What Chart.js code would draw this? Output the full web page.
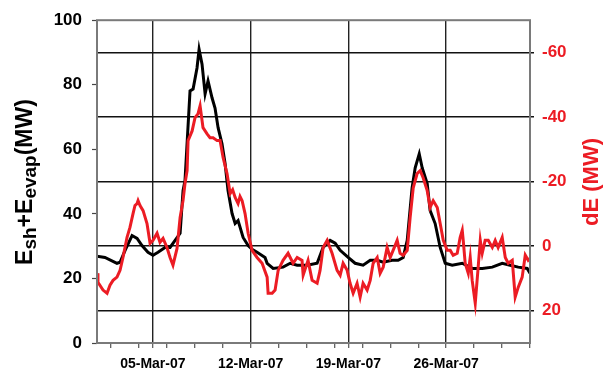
<!DOCTYPE html>
<html>
<head>
<meta charset="utf-8">
<script src="https://cdn.jsdelivr.net/npm/chart.js@4/dist/chart.umd.min.js"></script>
<style>
  html, body { margin: 0; padding: 0; background: #fff; }
  canvas { display: block; }
</style>
</head>
<body>
<canvas id="c" width="611" height="374"></canvas>
<script>
// Time in days since 01-Mar-07 00:00
const eDays = [0.00, 0.57, 1.43, 1.65, 2.01, 2.51, 2.87, 3.22, 3.65, 4.01, 4.37, 4.87, 5.23, 5.59, 5.95,
  6.16, 6.30, 6.66, 6.88, 7.16, 7.31, 7.52, 7.74, 7.95, 8.24, 8.45, 8.67, 8.95, 9.17, 9.38, 9.67, 9.89,
  10.10, 10.46, 10.82, 11.10, 11.46, 12.03, 12.18, 12.61, 13.32, 13.83, 14.33, 15.04, 15.76, 16.19, 16.69,
  17.05, 17.41, 17.98, 18.48, 19.05, 19.56, 20.06, 20.49, 21.13, 21.56, 21.92, 22.21, 22.56, 22.78,
  23.07, 23.28, 23.64, 23.85, 24.21, 24.57, 24.93, 25.43, 26.15, 26.86, 27.58, 28.30, 29.01, 29.58,
  30.16, 30.80, 31.00];
// Esh + Eevap (MW)
const eValues = [26.9, 26.5, 24.7, 25.0, 28.7, 33.3, 32.4, 30.2, 28.1, 27.2, 28.1, 29.6, 29.6, 31.8, 34.0,
  47.2, 50.3, 78.1, 78.7, 85.2, 91.0, 86.4, 77.2, 81.2, 75.9, 72.8, 66.7, 61.7, 55.6, 47.2, 40.1, 37.0,
  37.9, 32.7, 30.2, 29.0, 28.1, 26.5, 24.7, 23.1, 23.5, 24.7, 24.1, 24.1, 24.7, 29.6, 31.8,
  30.9, 28.7, 26.5, 24.7, 24.1, 25.6, 25.6, 25.0, 25.6, 25.6, 26.5, 31.8, 48.1, 54.3,
  58.6, 54.3, 49.4, 41.0, 37.0, 29.6, 24.7, 24.1, 24.7, 23.1, 23.1, 23.5, 24.7, 24.1,
  23.5, 23.1, 21.6];

const dEDays = [0.00, 0.07, 0.43, 0.72, 0.93, 1.15, 1.43, 1.65, 1.86, 2.15, 2.36, 2.58, 2.72, 2.87, 2.94,
  3.08, 3.30, 3.58, 3.80, 4.01, 4.30, 4.51, 4.73, 5.01, 5.23, 5.44, 5.73, 5.95, 6.16, 6.30, 6.45, 6.52,
  6.81, 7.02, 7.23, 7.38, 7.59, 7.88, 8.09, 8.31, 8.60, 8.81, 9.03, 9.31, 9.53, 9.71, 9.89, 10.10,
  10.24, 10.39, 10.60, 10.82, 11.10, 11.46, 11.82, 12.18, 12.25, 12.54, 12.75, 12.97, 13.32, 13.68,
  14.04, 14.33, 14.68, 14.76, 15.11, 15.40, 15.76, 15.97, 16.19, 16.48, 16.83, 17.19, 17.41, 17.62,
  17.91, 18.12, 18.34, 18.62, 18.84, 19.05, 19.34, 19.56, 19.77, 20.06, 20.27, 20.49, 20.77, 20.99,
  21.20, 21.49, 21.70, 21.92, 22.21, 22.42, 22.64, 22.92, 23.14, 23.35, 23.64, 23.85, 24.07, 24.36,
  24.57, 24.79, 25.07, 25.29, 25.50, 25.79, 26.00, 26.15, 26.22, 26.36, 26.58, 26.72, 26.86, 27.08,
  27.29, 27.44, 27.58, 27.79, 28.01, 28.30, 28.51, 28.72, 29.01, 29.23, 29.44, 29.73, 29.94, 30.16,
  30.44, 30.66, 30.87, 31.00];
// dE (MW)
const dEValues = [8.4, 11.2, 13.6, 14.6, 12.1, 10.6, 9.6, 7.5, 3.5, -2.7, -5.8, -10.1, -12.6, -13.2, -14.1,
  -12.6, -11.0, -7.0, -0.9, -1.8, -4.0, -1.2, -2.4, 0.4, 3.5, 5.9, 0.7, -8.9, -14.1, -19.4, -23.4, -32.7,
  -35.7, -39.8, -41.0, -43.5, -36.7, -34.8, -33.6, -33.6, -32.7, -32.7, -27.4, -22.5, -16.3, -17.5, -15.1, -13.2,
  -15.4, -14.1, -10.1, -4.0, 1.3, 3.5, 5.3, 9.6, 14.6, 14.6, 13.6, 7.5, 4.4, 2.2,
  5.3, 3.5, 4.4, 9.0, 4.4, 10.6, 11.5, 7.5, 0.4, -1.8, 2.2, 7.5, 9.0, 5.3,
  7.5, 11.5, 14.6, 11.5, 15.8, 11.5, 13.6, 10.6, 5.3, 3.5, 8.4, 6.5, 0.4, 3.5,
  1.3, -1.8, 2.2, 2.8, 1.3, -8.9, -18.1, -22.5, -23.4, -21.2, -17.2, -12.0, -14.1, -12.0,
  -7.0, -1.8, 1.3, 1.3, 2.8, 2.2, -2.7, -4.9, -1.8, 5.3, 8.4, 3.5, 10.6, 17.7,
  6.5, -1.8, 2.2, -1.8, -1.8, 0.4, -1.8, 0.4, -2.7, 3.5, 5.3, 4.4, 15.8, 12.7,
  9.6, 2.8, 4.4, 3.8];

// Axis ticks
const xTickDays = [4, 11, 18, 25];
const xTickLabels = ['05-Mar-07', '12-Mar-07', '19-Mar-07', '26-Mar-07'];
const xMinorTickDays = [1, 3, 5, 7, 9, 11, 13, 15, 17, 19, 21, 23, 25, 27, 29, 31];
const leftTicks = [0, 20, 40, 60, 80, 100];
const rightTicks = [-60, -40, -20, 0, 20];

const RED = '#ec1c24';
const FONT = "'Liberation Sans', Arial, sans-serif";

const xAllTicks = Array.from(new Set([...xTickDays, ...xMinorTickDays])).sort((a, b) => a - b);

function pts(xs, ys) { return xs.map((x, i) => ({ x: x, y: ys[i] })); }

// Plot frame and rotated axis titles (with subscripts on the left one)
const decorations = {
  id: 'decorations',
  afterDraw(chart) {
    const ctx = chart.ctx;
    const a = chart.chartArea;
    ctx.save();
    ctx.strokeStyle = '#7a7a7a';
    ctx.lineWidth = 2;
    ctx.strokeRect(a.left, a.top, a.right - a.left, a.bottom - a.top);
    ctx.restore();

    // left title: E_sh+E_evap(MW)
    const parts = [
      { t: 'E', size: 23, dy: 0 },
      { t: 'sh', size: 19, dy: 4 },
      { t: '+E', size: 23, dy: 0 },
      { t: 'evap', size: 19, dy: 4 },
      { t: '(MW)', size: 23, dy: 0 }
    ];
    ctx.save();
    ctx.translate(32, 182);
    ctx.rotate(-Math.PI / 2);
    ctx.fillStyle = '#000';
    ctx.textBaseline = 'alphabetic';
    ctx.textAlign = 'left';
    let total = 0;
    parts.forEach(p => { ctx.font = 'bold ' + p.size + 'px ' + FONT; p.w = ctx.measureText(p.t).width; total += p.w; });
    let x = -total / 2;
    parts.forEach(p => { ctx.font = 'bold ' + p.size + 'px ' + FONT; ctx.fillText(p.t, x, p.dy); x += p.w; });
    ctx.restore();

    // right title
    ctx.save();
    ctx.translate(598, 182);
    ctx.rotate(-Math.PI / 2);
    ctx.fillStyle = RED;
    ctx.font = 'bold 22px ' + FONT;
    ctx.textAlign = 'center';
    ctx.textBaseline = 'alphabetic';
    ctx.fillText('dE (MW)', 0, 0);
    ctx.restore();
  }
};

new Chart(document.getElementById('c'), {
  type: 'line',
  data: {
    datasets: [
      {
        label: 'Esh+Eevap',
        data: pts(eDays, eValues),
        yAxisID: 'y',
        borderColor: '#000',
        borderWidth: 3,
        pointRadius: 0,
        tension: 0,
        order: 1
      },
      {
        label: 'dE',
        data: pts(dEDays, dEValues),
        yAxisID: 'y2',
        borderColor: RED,
        borderWidth: 3,
        pointRadius: 0,
        tension: 0,
        order: 0
      }
    ]
  },
  options: {
    responsive: false,
    animation: false,
    events: [],
    layout: { padding: { top: 19, left: 0, right: 0, bottom: 0 } },
    plugins: { legend: { display: false }, tooltip: { enabled: false } },
    scales: {
      x: {
        type: 'linear',
        min: 0,
        max: 31,
        afterBuildTicks(scale) { scale.ticks = xAllTicks.map(v => ({ value: v })); },
        afterFit(scale) { scale.height = 31; },
        border: { display: false },
        grid: {
          color: ctx => xTickDays.includes(ctx.tick && ctx.tick.value) ? '#222' : 'rgba(0,0,0,0)',
          lineWidth: 1.4,
          tickColor: '#555',
          tickLength: 5,
          tickWidth: 1.2
        },
        ticks: {
          autoSkip: false,
          maxRotation: 0,
          padding: 8,
          color: '#000',
          font: { family: FONT, size: 14, weight: 'bold' },
          callback: v => {
            const i = xTickDays.indexOf(v);
            return i >= 0 ? xTickLabels[i] : '';
          }
        }
      },
      y: {
        position: 'left',
        min: 0,
        max: 100,
        afterBuildTicks(scale) { scale.ticks = leftTicks.map(v => ({ value: v })); },
        afterFit(scale) { scale.width = 97; },
        border: { display: false },
        grid: { drawOnChartArea: false, tickColor: '#444', tickLength: 5, tickWidth: 1.2 },
        ticks: {
          padding: 10,
          color: '#000',
          font: { family: FONT, size: 17, weight: 'bold' }
        }
      },
      y2: {
        position: 'right',
        min: -70,
        max: 30,
        reverse: true,
        afterBuildTicks(scale) { scale.ticks = rightTicks.map(v => ({ value: v })); },
        afterFit(scale) { scale.width = 81; },
        border: { display: false },
        grid: { color: '#111', lineWidth: 1.5, tickColor: '#111', tickLength: 4, tickWidth: 1.5 },
        ticks: {
          padding: 8,
          color: RED,
          font: { family: FONT, size: 17, weight: 'bold' }
        }
      }
    }
  },
  plugins: [decorations]
});
</script>
</body>
</html>
